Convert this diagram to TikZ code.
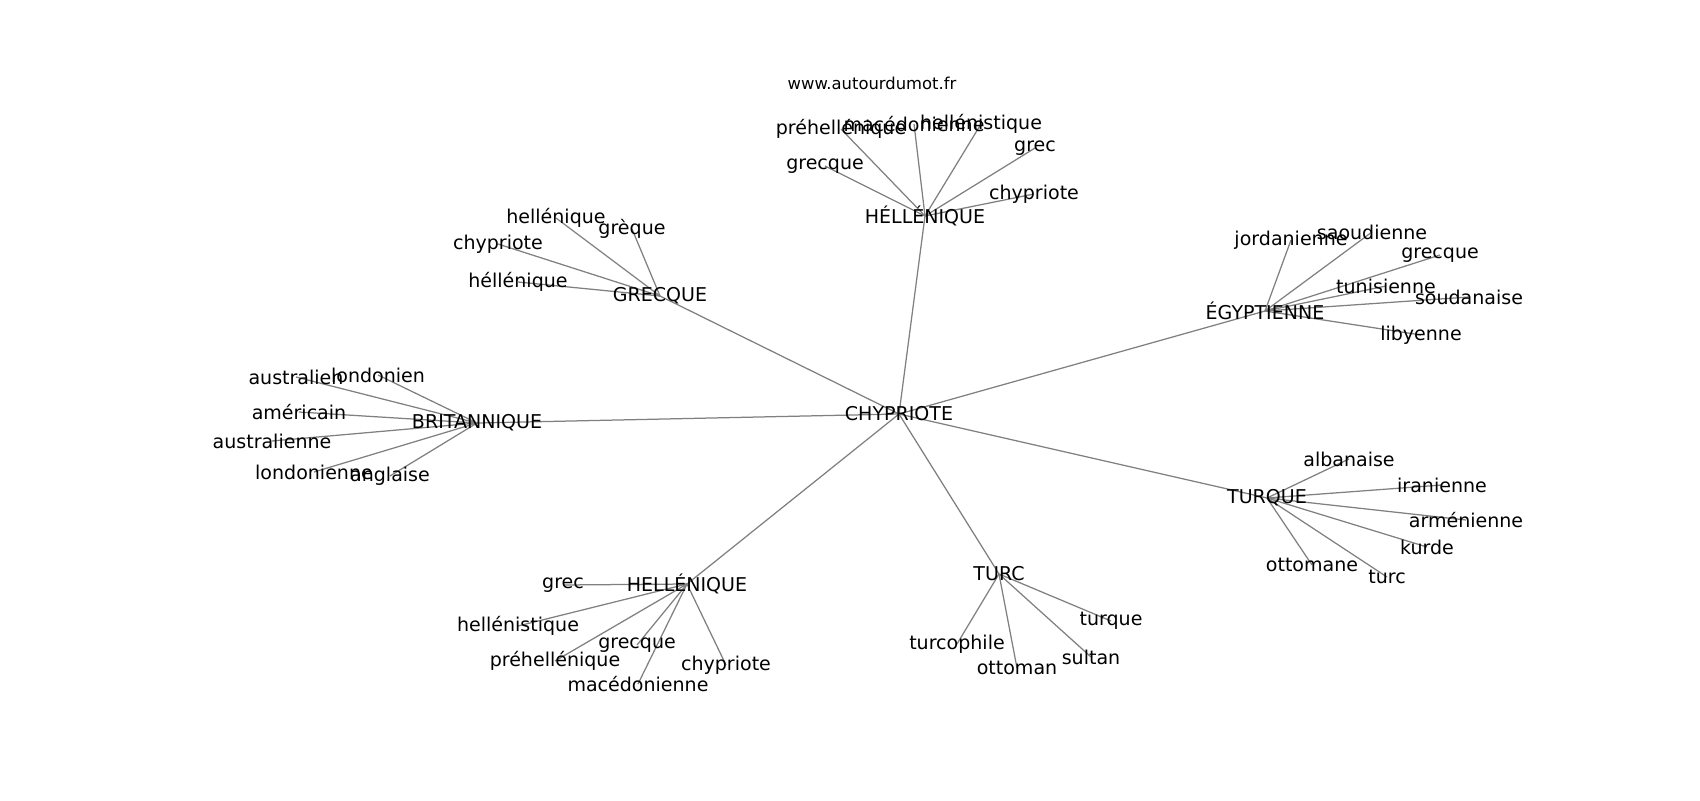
\documentclass[tikz,border=0pt]{standalone}
\usepackage{fontspec}
\setmainfont{DejaVu Sans}
\usetikzlibrary{backgrounds}

\tikzset{
  word/.style={inner sep=0pt, font=\fontsize{13.7}{16}\selectfont},
  link/.style={draw=gray, line width=0.9pt}
}

\begin{document}
\begin{tikzpicture}[x=0.72pt, y=-0.72pt]

	\useasboundingbox (0,0) rectangle (1700,800);

	\node[inner sep=0pt, font=\fontsize{11.8}{14}\selectfont] (site) at (872,83) {www.autourdumot.fr};

        % the hubs
	\node[word] (chy) at (899,414) {CHYPRIOTE};
	\node[word] (hela) at (925,216) {HÉLLÉNIQUE};
	\node[word] (grq) at (660,296) {GRECQUE};
	\node[word] (egy) at (1265,311) {ÉGYPTIENNE};
	\node[word] (bri) at (477,423) {BRITANNIQUE};
	\node[word] (turq) at (1267,498) {TURQUE};
	\node[word] (turc) at (999,574) {TURC};
	\node[word] (helb) at (687,584) {HELLÉNIQUE};

        % around HÉLLÉNIQUE
	\node[word] (hela1) at (841,129) {préhellénique};
	\node[word] (hela2) at (914,124) {macédonienne};
	\node[word] (hela3) at (981,124) {hellénistique};
	\node[word] (hela4) at (1035,148) {grec};
	\node[word] (hela5) at (825,166) {grecque};
	\node[word] (hela6) at (1034,194) {chypriote};

        % around GRECQUE
	\node[word] (grq1) at (556,218) {hellénique};
	\node[word] (grq2) at (632,229) {grèque};
	\node[word] (grq3) at (498,244) {chypriote};
	\node[word] (grq4) at (518,282) {héllénique};

        % around ÉGYPTIENNE
	\node[word] (egy1) at (1291,240) {jordanienne};
	\node[word] (egy2) at (1372,232) {saoudienne};
	\node[word] (egy3) at (1440,255) {grecque};
	\node[word] (egy4) at (1386,286) {tunisienne};
	\node[word] (egy5) at (1469,297) {soudanaise};
	\node[word] (egy6) at (1421,335) {libyenne};

        % around BRITANNIQUE
	\node[word] (bri1) at (296,377) {australien};
	\node[word] (bri2) at (378,375) {londonien};
	\node[word] (bri3) at (299,412) {américain};
	\node[word] (bri4) at (272,441) {australienne};
	\node[word] (bri5) at (314,472) {londonienne};
	\node[word] (bri6) at (390,476) {anglaise};

        % around TURQUE
	\node[word] (turq1) at (1349,459) {albanaise};
	\node[word] (turq2) at (1442,485) {iranienne};
	\node[word] (turq3) at (1466,520) {arménienne};
	\node[word] (turq4) at (1427,547) {kurde};
	\node[word] (turq5) at (1312,565) {ottomane};
	\node[word] (turq6) at (1387,577) {turc};

        % around TURC
	\node[word] (turc1) at (957,644) {turcophile};
	\node[word] (turc2) at (1017,668) {ottoman};
	\node[word] (turc3) at (1091,657) {sultan};
	\node[word] (turc4) at (1111,621) {turque};

        % around HELLÉNIQUE
	\node[word] (helb1) at (563,585) {grec};
	\node[word] (helb2) at (518,626) {hellénistique};
	\node[word] (helb3) at (555,661) {préhellénique};
	\node[word] (helb4) at (637,645) {grecque};
	\node[word] (helb5) at (638,684) {macédonienne};
	\node[word] (helb6) at (726,665) {chypriote};

\begin{scope}[on background layer]
	\draw[link] (chy.center) -- (hela.center);
	\draw[link] (chy.center) -- (grq.center);
	\draw[link] (chy.center) -- (egy.center);
	\draw[link] (chy.center) -- (bri.center);
	\draw[link] (chy.center) -- (turq.center);
	\draw[link] (chy.center) -- (turc.center);
	\draw[link] (chy.center) -- (helb.center);

	\draw[link] (hela.center) -- (hela1.center);
	\draw[link] (hela.center) -- (hela2.center);
	\draw[link] (hela.center) -- (hela3.center);
	\draw[link] (hela.center) -- (hela4.center);
	\draw[link] (hela.center) -- (hela5.center);
	\draw[link] (hela.center) -- (hela6.center);

	\draw[link] (grq.center) -- (grq1.center);
	\draw[link] (grq.center) -- (grq2.center);
	\draw[link] (grq.center) -- (grq3.center);
	\draw[link] (grq.center) -- (grq4.center);

	\draw[link] (egy.center) -- (egy1.center);
	\draw[link] (egy.center) -- (egy2.center);
	\draw[link] (egy.center) -- (egy3.center);
	\draw[link] (egy.center) -- (egy4.center);
	\draw[link] (egy.center) -- (egy5.center);
	\draw[link] (egy.center) -- (egy6.center);

	\draw[link] (bri.center) -- (bri1.center);
	\draw[link] (bri.center) -- (bri2.center);
	\draw[link] (bri.center) -- (bri3.center);
	\draw[link] (bri.center) -- (bri4.center);
	\draw[link] (bri.center) -- (bri5.center);
	\draw[link] (bri.center) -- (bri6.center);

	\draw[link] (turq.center) -- (turq1.center);
	\draw[link] (turq.center) -- (turq2.center);
	\draw[link] (turq.center) -- (turq3.center);
	\draw[link] (turq.center) -- (turq4.center);
	\draw[link] (turq.center) -- (turq5.center);
	\draw[link] (turq.center) -- (turq6.center);

	\draw[link] (turc.center) -- (turc1.center);
	\draw[link] (turc.center) -- (turc2.center);
	\draw[link] (turc.center) -- (turc3.center);
	\draw[link] (turc.center) -- (turc4.center);

	\draw[link] (helb.center) -- (helb1.center);
	\draw[link] (helb.center) -- (helb2.center);
	\draw[link] (helb.center) -- (helb3.center);
	\draw[link] (helb.center) -- (helb4.center);
	\draw[link] (helb.center) -- (helb5.center);
	\draw[link] (helb.center) -- (helb6.center);
\end{scope}

\end{tikzpicture}
\end{document}
